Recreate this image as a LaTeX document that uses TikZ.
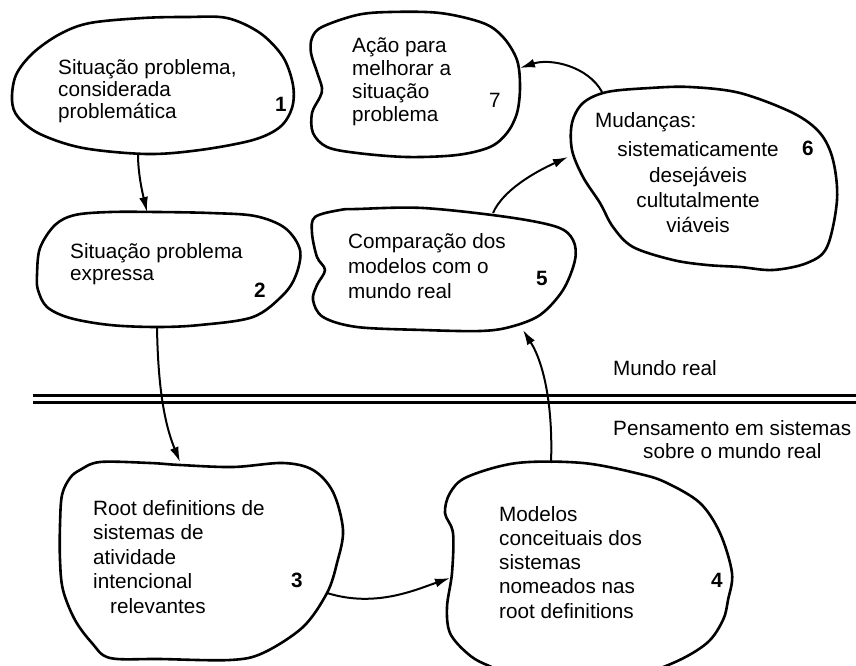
\documentclass[tikz,border=0pt]{standalone}
\usepackage{fontspec}
\setmainfont{Liberation Sans}
\usetikzlibrary{arrows.meta}

% stacked lines, first baseline on the node's base
\newcommand\lstack[2]{{\baselineskip=#1pt\lineskiplimit=-20pt\vtop{\halign{##\hfil\cr#2\crcr}}}}
\newcommand\cstack[2]{{\baselineskip=#1pt\lineskiplimit=-20pt\vtop{\halign{\hfil##\hfil\cr#2\crcr}}}}

\begin{document}
\begin{tikzpicture}[x=1pt,y=-1pt,
  blob/.style={draw=black,line width=2.6pt,line join=round},
  conn/.style={draw=black,line width=2pt,-{Latex[length=15pt,width=9pt]}},
  lbl/.style={inner sep=0pt,anchor=base west,font=\fontsize{20.7}{24}\selectfont},
  num/.style={inner sep=0pt,anchor=base west,font=\fontsize{20.7}{24}\selectfont\bfseries}]
\useasboundingbox (0,0) rectangle (856,666);
\clip (0,0) rectangle (856,666);

% outlines of the seven stages
\draw[blob] plot[smooth cycle,tension=0.55] coordinates {(12,100) (16,75) (33,53) (60,34) (90,23) (143,18) (187,17) (227,18) (260,33) (283,57) (293,85) (292,108) (280,127) (253,140) (200,150) (147,154) (83,148) (40,134) (18,117)};
\draw[blob] plot[smooth cycle,tension=0.55] coordinates {(37,275) (40,248) (55,225) (75,215) (110,212) (157,212) (210,213) (255,216) (285,228) (300,250) (296,275) (283,295) (253,317) (200,325) (157,327) (110,325) (70,318) (47,307) (38,290)};
\draw[blob] plot[smooth cycle,tension=0.55] coordinates {(60,525) (62,495) (70,478) (80,470) (100,462) (150,463) (180,465) (233,467) (283,463) (313,470) (333,492) (343,530) (337,563) (327,593) (303,627) (263,653) (230,660) (160,659) (110,658) (92,643) (75,620) (63,590) (60,560)};
\draw[blob] plot[smooth cycle,tension=0.55] coordinates {(445,513) (450,493) (467,477) (517,463) (583,463) (640,474) (667,483) (700,503) (720,533) (732,573) (728,600) (723,620) (707,643) (673,663) (620,680) (540,684) (487,665) (467,653) (450,633) (447,607) (452,573) (453,533)};
\draw[blob] plot[smooth cycle,tension=0.55] coordinates {(312,233) (315,217) (340,210) (357,209) (423,208) (507,217) (557,227) (573,240) (575,260) (563,290) (540,315) (510,327) (480,331) (423,330) (357,327) (323,317) (313,300) (317,285) (325,270) (317,257)};
\draw[blob] plot[smooth cycle,tension=0.55] coordinates {(572,150) (572,123) (583,103) (607,92) (650,88) (690,87) (740,93) (793,113) (820,133) (833,160) (837,200) (827,247) (807,263) (773,270) (740,267) (707,265) (673,260) (633,247) (613,227) (600,203) (583,177)};
\draw[blob] plot[smooth cycle,tension=0.55] coordinates {(311,53) (312,38) (322,27) (357,15) (390,12) (440,13) (483,23) (503,37) (517,60) (520,87) (517,113) (507,133) (490,147) (457,155) (407,157) (357,153) (327,147) (313,133) (312,113) (320,97) (322,88) (317,72)};

% texts
\node[lbl] (t1) at (58,75) {\lstack{22}{Situação problema,\cr considerada\cr problemática}};
\node[num] (n1) at (275,112) {1};
\node[lbl] (t2) at (70,258) {\lstack{22}{Situação problema\cr expressa}};
\node[num] (n2) at (254,297) {2};
\node[lbl] (t3) at (93,515) {\lstack{24.5}{Root definitions de\cr sistemas de\cr atividade\cr intencional\cr\hspace*{17pt}relevantes}};
\node[num] (n3) at (291,587) {3};
\node[lbl] (t4) at (499,521) {\lstack{24.3}{Modelos\cr conceituais dos\cr sistemas\cr nomeados nas\cr root definitions}};
\node[num] (n4) at (711,587) {4};
\node[lbl] (t5) at (348,248) {\lstack{25}{Comparação dos\cr modelos com o\cr mundo real}};
\node[num] (n5) at (536,285) {5};
\node[lbl] (t6) at (595,128) {Mudanças:};
\node[lbl,anchor=base] (t6b) at (698,157) {\cstack{25.3}{sistematicamente\cr desejáveis\cr cultutalmente\cr viáveis}};
\node[num] (n6) at (802,155) {6};
\node[lbl] (t7) at (352,53) {\lstack{23}{Ação para\cr melhorar a\cr situação\cr problema}};
\node[lbl] (n7) at (489,107) {7};

% boundary between the real world and systems thinking
\coordinate (sepL) at (33,399);
\coordinate (sepR) at (860,399);
\draw[line width=2.8pt,double=white,double distance=3.8pt] (sepL) -- (sepR);
\node[lbl] (real) at (613,375) {Mundo real};
\node[lbl] (sys) at (613,435) {Pensamento em sistemas};
\node[lbl] (sys2) at (643,458) {sobre o mundo real};

% connector end points on the outlines
\coordinate (b1s) at (138,154);
\coordinate (b2n) at (147,212);
\coordinate (b2s) at (157,327);
\coordinate (b3n) at (180,462);
\coordinate (b3e) at (327,593);
\coordinate (b4w) at (450,578);
\coordinate (b4n) at (551,463);
\coordinate (b5s) at (523,330);
\coordinate (b5n) at (493,213);
\coordinate (b6w) at (568,157);
\coordinate (b6n) at (602,92);
\coordinate (b7e) at (520,68);

\draw[conn] (b1s) .. controls (138,175) and (143,195) .. (b2n);
\draw[conn] (b2s) .. controls (158,390) and (165,425) .. (b3n);
\draw[conn] (b3e) .. controls (375,608) and (415,590) .. (b4w);
\draw[conn] (b4n) .. controls (553,410) and (545,365) .. (b5s);
\draw[conn] (b5n) .. controls (503,190) and (535,172) .. (b6w);
\draw[conn] (b6n) .. controls (588,66) and (550,58) .. (b7e);
\end{tikzpicture}
\end{document}
